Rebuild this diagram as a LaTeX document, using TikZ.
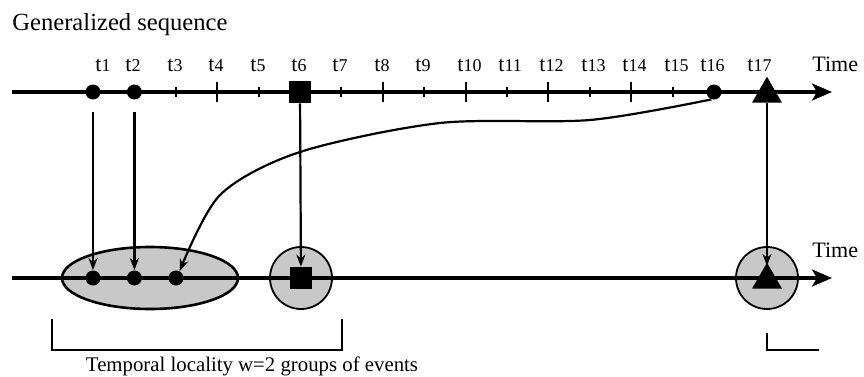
\documentclass[tikz,border=0pt]{standalone}
\usepackage{fontspec}
\setmainfont{Liberation Serif}
\usetikzlibrary{arrows.meta,positioning,shapes.geometric}
\definecolor{grpfill}{RGB}{200,200,200}

\begin{document}
\begin{tikzpicture}[x=0.5pt, y=-0.5pt,
  axis/.style={line width=1.6pt, -{Stealth[length=10pt, width=8.5pt, inset=2.5pt]}},
  arr/.style={-{Stealth[length=6pt, width=4.5pt]}, line width=1.1pt},
  evdot/.style={circle, fill=black, inner sep=0pt, minimum size=7.5pt},
  evsq/.style={rectangle, fill=black, inner sep=0pt, minimum size=11pt},
  evtri/.style={regular polygon, regular polygon sides=3, fill=black, inner sep=0pt, minimum size=17.3pt},
  grp/.style={draw, fill=grpfill, line width=0.9pt, inner sep=0pt},
  tlabel/.style={anchor=base west, inner sep=0pt, font=\fontsize{11}{12}\selectfont},
  tickmark/.style={line width=1pt},
  bracket/.style={line width=1pt}]
\useasboundingbox (0,0) rectangle (864,376);
\node[anchor=base west, inner sep=0pt, font=\fontsize{12.3}{14}\selectfont] (title) at (12,30) {Generalized sequence};
\node[grp, ellipse, minimum width=88pt, minimum height=31pt, line width=1.3pt] (grpA) at (150,278) {};
\node[grp, circle, minimum size=31pt] (grpB) at (301,278) {};
\node[grp, circle, minimum size=31pt] (grpC) at (767,278) {};
\coordinate (top0) at (12,92); \coordinate (topend) at (832,92);
\coordinate (bot0) at (12,278); \coordinate (botend) at (832,278);
\draw[axis] (top0) -- (topend);
\draw[axis] (bot0) -- (botend);
\foreach \i in {3,4,5,7,8,9,10,11,12,13,14,15} {
  \pgfmathsetmacro\tl{mod(\i,2)==0 ? 10 : 5}
  \draw[tickmark] ({93+41.4*(\i-1)},{92-\tl}) -- ({93+41.4*(\i-1)},{92+\tl});
}
\foreach \i/\lx in {1/95,2/125,3/167,4/208,5/250,6/291,7/332,8/374,9/415,10/457,11/498,12/539,13/581,14/622,15/664,16/700,17/747}
  \node[tlabel] (lab\i) at (\lx,71) {t{\fontsize{9}{10}\selectfont\i}};
\node[tlabel] (time1) at (812,71) {Time};
\node[tlabel] (time2) at (812,257) {Time};
\node[evdot] (e1) at (93,92) {};
\node[evdot] (e2) at (134.4,92) {};
\node[evsq] (e6) at (300,92) {};
\node[evdot] (e16) at (714,92) {};
\node[evtri] (e17) at (767,94) {};
\node[evdot] (g1) at (93,278) {};
\node[evdot] (g2) at (134.4,278) {};
\node[evdot] (g3) at (176,278) {};
\node[evsq] (g6) at (301,278) {};
\node[evtri] (g17) at (767,280) {};
\draw[arr, shorten <=6pt] (e1) -- (g1);
\draw[arr, shorten <=6pt] (e2) -- (g2);
\draw[arr] (e6) -- (g6);
\draw[arr, shorten >=-2pt] (e17) -- (g17);
\draw[arr] plot[smooth, tension=0.5] coordinates {(e16.250) (590,120) (440,123) (300,152) (220,195) (g3.62)};
\draw[bracket] (52,319) -- (52,350) -- (342,350) -- (342,319);
\draw[bracket] (767,333) -- (767,350) -- (819,350);
\node[anchor=base, inner sep=0pt, font=\fontsize{10.4}{12}\selectfont] (wnote) at (252,371) {Temporal locality w=2 groups of events};
\end{tikzpicture}
\end{document}
